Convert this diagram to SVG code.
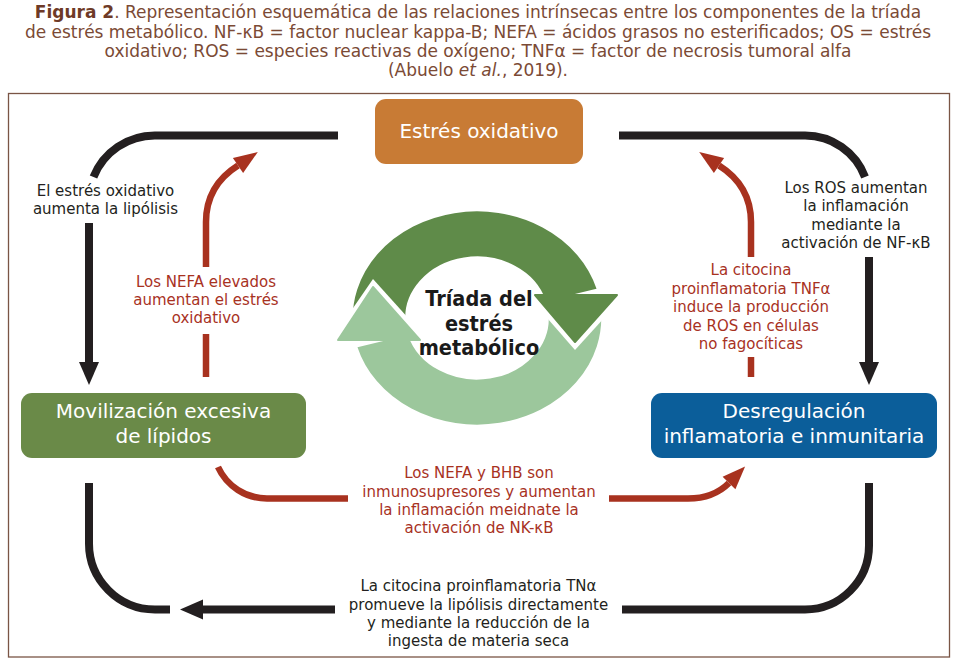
<svg xmlns="http://www.w3.org/2000/svg" width="957" height="664" viewBox="0 0 957 664">
<style>
.ttl{font-family:"DejaVu Sans","Liberation Sans",sans-serif;font-size:17px;fill:#7b4a35;text-anchor:middle}
.lbl{font-family:"DejaVu Sans","Liberation Sans",sans-serif;font-size:15px;text-anchor:middle}
.blk{fill:#231f20}
.red{fill:#a8321f}
.bt{font-family:"DejaVu Sans","Liberation Sans",sans-serif;font-size:20px;fill:#ffffff;text-anchor:middle}
.cb{fill:none;stroke:#231f20;stroke-width:8}
.cr{fill:none;stroke:#a8321f;stroke-width:6.5}
.hb{fill:#231f20}
.hr{fill:#a8321f}
.ctr{font-family:"DejaVu Sans Condensed","Liberation Sans",sans-serif;font-weight:bold;font-size:21.5px;fill:#1a1a1a;text-anchor:middle}
</style>
<rect width="957" height="664" fill="#ffffff"/>
<g id="caption">
<text class="ttl" x="478" y="18"><tspan font-weight="bold" fill="#6e3a27">Figura 2</tspan>. Representación esquemática de las relaciones intrínsecas entre los componentes de la tríada</text>
<text class="ttl" x="478" y="38">de estrés metabólico. NF-κB = factor nuclear kappa-B; NEFA = ácidos grasos no esterificados; OS = estrés</text>
<text class="ttl" x="478" y="57">oxidativo; ROS = especies reactivas de oxígeno; TNFα = factor de necrosis tumoral alfa</text>
<text class="ttl" x="478" y="76">(Abuelo <tspan font-style="italic">et al.</tspan>, 2019).</text>
</g>
<rect id="frame" x="8.5" y="93.5" width="941" height="563.5" fill="none" stroke="#7a5545" stroke-width="1.3"/>

<g id="connectors">
  <path class="cb" d="M338,135.5 H155 A66,66 0 0 0 93.5,177"/>
  <path class="cb" d="M89,223 V365"/>
  <polygon class="hb" points="79,362 99,362 89,385"/>
  <path class="cb" d="M619,135.5 H805 A64,64 0 0 1 865,177"/>
  <path class="cb" d="M869,257 V365"/>
  <polygon class="hb" points="859,362 879,362 869,385"/>
  <path class="cb" d="M89,483 V543 A66,66 0 0 0 155,609.5 H170"/>
  <path class="cb" d="M622,609.5 H805 A64,64 0 0 0 869,545.5 V483"/>
  <path class="cb" d="M335,609.5 H200"/>
  <polygon class="hb" points="180,609.5 203,599.5 203,619.5"/>
  <path class="cr" d="M206,377 V334"/>
  <path class="cr" d="M206,267 V222 C206,200 215,180 238,165.5"/>
  <polygon class="hr" points="257.8,152 243.1,172.9 232.9,158.1"/>
  <path class="cr" d="M751,377 V357"/>
  <path class="cr" d="M751,257 V222 C751,200 742,180 719,165.5"/>
  <polygon class="hr" points="699.2,152 713.9,172.9 724.1,158.1"/>
  <path class="cr" d="M218,467 A54,54 0 0 0 267,498.5 H348"/>
  <path class="cr" d="M609,498.5 H688 C705,498.5 718,494 729,483"/>
  <polygon class="hr" points="745.1,466.6 735.4,489.3 722.6,476.7"/>
</g>

<g id="labels">
  <text class="lbl blk" x="105.5" y="196">El estrés oxidativo</text>
  <text class="lbl blk" x="105.5" y="214">aumenta la lipólisis</text>
  <text class="lbl red" x="206" y="287">Los NEFA elevados</text>
  <text class="lbl red" x="206" y="305">aumentan el estrés</text>
  <text class="lbl red" x="206" y="323">oxidativo</text>
  <text class="lbl blk" x="856" y="193">Los ROS aumentan</text>
  <text class="lbl blk" x="856" y="211">la inflamación</text>
  <text class="lbl blk" x="856" y="229.5">mediante la</text>
  <text class="lbl blk" x="856" y="248">activación de NF-κB</text>
  <text class="lbl red" x="751" y="275">La citocina</text>
  <text class="lbl red" x="751" y="293.5">proinflamatoria TNFα</text>
  <text class="lbl red" x="751" y="312">induce la producción</text>
  <text class="lbl red" x="751" y="330.5">de ROS en células</text>
  <text class="lbl red" x="751" y="349">no fagocíticas</text>
  <text class="lbl red" x="479" y="478">Los NEFA y BHB son</text>
  <text class="lbl red" x="479" y="496.5">inmunosupresores y aumentan</text>
  <text class="lbl red" x="479" y="515">la inflamación meidnate la</text>
  <text class="lbl red" x="479" y="533">activación de NK-κB</text>
  <text class="lbl blk" x="478.5" y="591">La citocina proinflamatoria TNα</text>
  <text class="lbl blk" x="478.5" y="609.5">promueve la lipólisis directamente</text>
  <text class="lbl blk" x="478.5" y="628">y mediante la reducción de la</text>
  <text class="lbl blk" x="478.5" y="646">ingesta de materia seca</text>
</g>

<g id="node-estres-oxidativo">
  <rect x="375" y="99" width="208" height="65" rx="11" fill="#c87b35"/>
  <text class="bt" x="479" y="138" font-size="19">Estrés oxidativo</text>
</g>
<g id="node-movilizacion">
  <rect x="21" y="393" width="285" height="65" rx="11" fill="#6a8a48"/>
  <text class="bt" x="163.5" y="418">Movilización excesiva</text>
  <text class="bt" x="163.5" y="443">de lípidos</text>
</g>
<g id="node-desregulacion">
  <rect x="651" y="393" width="286" height="65" rx="11" fill="#0b5e9a"/>
  <text class="bt" x="794" y="418">Desregulación</text>
  <text class="bt" x="794" y="443">inflamatoria e inmunitaria</text>
</g>

<g id="node-triada">
  <g transform="translate(477,318) scale(1.1667,1)">
    <path d="M-83.68,7.32 A84,84 0 0 1 80.8,-23.05" fill="none" stroke="#5f8b49" stroke-width="45"/>
    <path d="M83.68,-7.32 A84,84 0 0 1 -80.8,23.05" fill="none" stroke="#9cc79c" stroke-width="45"/>
  </g>
  <polygon points="527,295 625,295 575,350" fill="#ffffff"/>
  <polygon points="331,340 428,340 373,279" fill="#ffffff"/>
  <polygon points="535,295 617,295 575,342" fill="#5f8b49" stroke="#5f8b49" stroke-width="2" stroke-linejoin="round"/>
  <polygon points="338,340 420,340 373,287" fill="#9cc79c" stroke="#9cc79c" stroke-width="2" stroke-linejoin="round"/>
  <text class="ctr" x="479" y="306">Tríada del</text>
  <text class="ctr" x="479" y="330.5">estrés</text>
  <text class="ctr" x="479" y="355">metabólico</text>
</g>
</svg>
